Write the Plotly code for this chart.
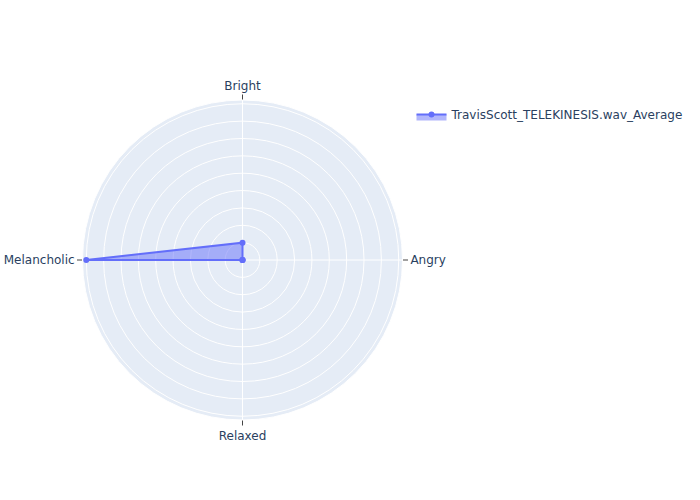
import plotly.graph_objects as go

categories = ["Angry", "Bright", "Melancholic", "Relaxed", "Angry"]
values = [0.0, 0.1, 0.9, 0.0, 0.0]
series_name = "TravisScott_TELEKINESIS.wav_Average"

fig = go.Figure()
fig.add_trace(go.Scatterpolar(r=values, theta=categories, fill="toself", name=series_name))
fig.update_layout(
    showlegend=True,
    width=700, height=500,
    font=dict(family="DejaVu Sans"),
    polar=dict(
        radialaxis=dict(visible=True, showticklabels=False, showline=False, ticks=""),
        angularaxis=dict(ticks="outside"),
    ),
)
fig.write_html("out.html")
